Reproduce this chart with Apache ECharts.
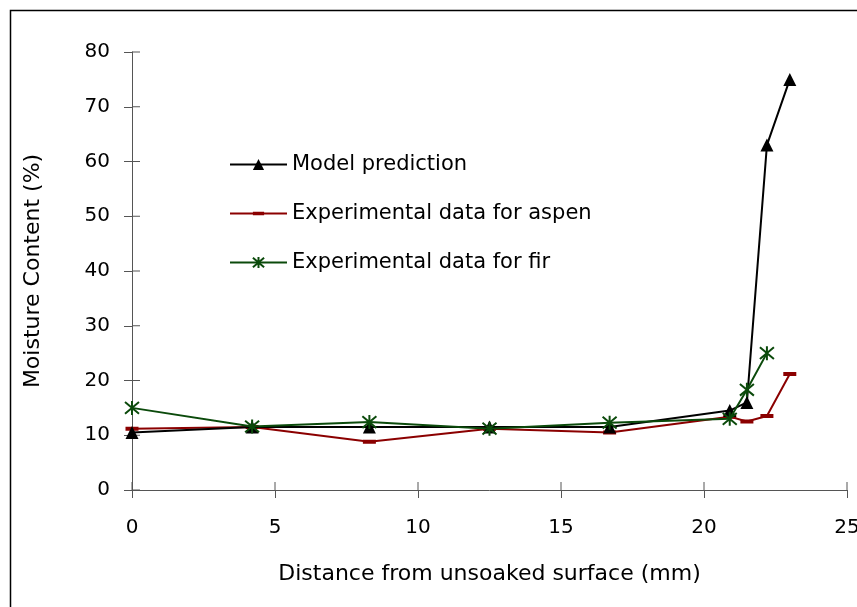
<!DOCTYPE html>
<html>
<head>
<meta charset="utf-8">
<script src="https://cdn.jsdelivr.net/npm/echarts@6/dist/echarts.min.js"></script>
<style>
  html, body { margin: 0; padding: 0; background: #fff; }
  #chart { width: 857px; height: 607px; }
</style>
</head>
<body>
<div id="chart"></div>
<script>
// distances (mm) where the profiles were sampled
var distance = [0, 4.2, 8.3, 12.5, 16.7, 20.9, 21.5, 22.2, 23];

var modelPrediction = [10.5, 11.5, 11.5, 11.5, 11.5, 14.5, 16, 63, 75];
var aspenData = [11.2, 11.5, 8.8, 11.2, 10.5, 13.4, 12.5, 13.5, 21.2];
var firData = [15, 11.6, 12.4, 11.2, 12.3, 13, 18.3, 25, null];

var names = ['Model prediction', 'Experimental data for aspen', 'Experimental data for fir'];

// tick values, used for the inner half of the crossing ticks
var xTicks = [0, 5, 10, 15, 20, 25];
var yTicks = [0, 10, 20, 30, 40, 50, 60, 70, 80];

function pairs(ys) {
    var out = [];
    for (let i = 0; i < distance.length; i++) {
        if (ys[i] != null) out.push([distance[i], ys[i]]);
    }
    return out;
}

var font = 'DejaVu Sans, sans-serif';
var asterisk = 'path://M0,0L10,10M10,0L0,10M5,-1L5,11';
// flat bar inside a square box (tiny corner specks keep the box square)
var dash = 'path://M0,4.5L13,4.5L13,8.5L0,8.5Z M0,0L0.01,0L0,0.01Z M13,13L12.99,13L13,12.99Z';

var tickColor = '#555';
var tickLen = 8;

function innerTick(horizontal) {
    return function (params, api) {
        var p = api.coord([api.value(0), api.value(1)]);
        var x2 = horizontal ? p[0] + tickLen : p[0];
        var y2 = horizontal ? p[1] : p[1] - tickLen;
        return {
            type: 'line',
            shape: { x1: p[0], y1: p[1], x2: x2, y2: y2 },
            style: { stroke: tickColor, lineWidth: 1 }
        };
    };
}

var myChart = echarts.init(document.getElementById('chart'));

var option = {
    animation: false,
    textStyle: { fontFamily: font },
    graphic: [{
        type: 'rect',
        left: 8, top: 8,
        shape: { width: 900, height: 700 },
        style: { fill: 'none', stroke: '#000', lineWidth: 1.5 },
        silent: true
    }],
    grid: { left: 132, top: 52, right: 10, bottom: 117, outerBoundsMode: 'none' },
    legend: {
        orient: 'vertical',
        left: 224,
        top: 149,
        itemWidth: 57,
        itemHeight: 14,
        itemGap: 28,
        data: names,
        textStyle: { fontSize: 21, color: '#000', fontFamily: font }
    },
    xAxis: {
        type: 'value',
        min: 0, max: 25, interval: 5,
        name: 'Distance from unsoaked surface (mm)',
        nameLocation: 'middle',
        nameGap: 73,
        nameTextStyle: { fontSize: 22, color: '#000' },
        axisLine: { onZero: false, lineStyle: { color: tickColor, width: 1 } },
        axisTick: { show: true, length: tickLen, lineStyle: { color: tickColor } },
        axisLabel: { fontSize: 20, color: '#000', margin: 28 },
        splitLine: { show: false }
    },
    yAxis: {
        type: 'value',
        min: 0, max: 80, interval: 10,
        name: 'Moisture Content (%)',
        nameLocation: 'middle',
        nameGap: 88,
        nameTextStyle: { fontSize: 22, color: '#000' },
        axisLine: { show: true, onZero: false, lineStyle: { color: tickColor, width: 1 } },
        axisTick: { show: true, length: tickLen, lineStyle: { color: tickColor } },
        axisLabel: { fontSize: 20, color: '#000', margin: 22 },
        splitLine: { show: false }
    },
    series: [{
        name: names[0],
        type: 'line',
        data: pairs(modelPrediction),
        symbol: 'triangle',
        symbolSize: 13,
        itemStyle: { color: '#000' },
        lineStyle: { color: '#000', width: 2 },
        z: 3
    }, {
        name: names[1],
        type: 'line',
        data: pairs(aspenData),
        symbol: dash,
        symbolSize: 13,
        itemStyle: { color: '#8b0000' },
        lineStyle: { color: '#8b0000', width: 2 },
        z: 2
    }, {
        name: names[2],
        type: 'line',
        data: pairs(firData),
        symbol: asterisk,
        symbolSize: 14,
        itemStyle: { color: 'none', borderColor: '#0b4a0b', borderWidth: 2 },
        lineStyle: { color: '#0b4a0b', width: 2 },
        z: 4
    }, {
        name: 'xTickMarks',
        type: 'custom',
        silent: true,
        clip: false,
        renderItem: innerTick(false),
        data: xTicks.map(function (v) { return [v, 0]; }),
        z: 1
    }, {
        name: 'yTickMarks',
        type: 'custom',
        silent: true,
        clip: false,
        renderItem: innerTick(true),
        data: yTicks.map(function (v) { return [0, v]; }),
        z: 1
    }]
};

myChart.setOption(option, true);
</script>
</body>
</html>
